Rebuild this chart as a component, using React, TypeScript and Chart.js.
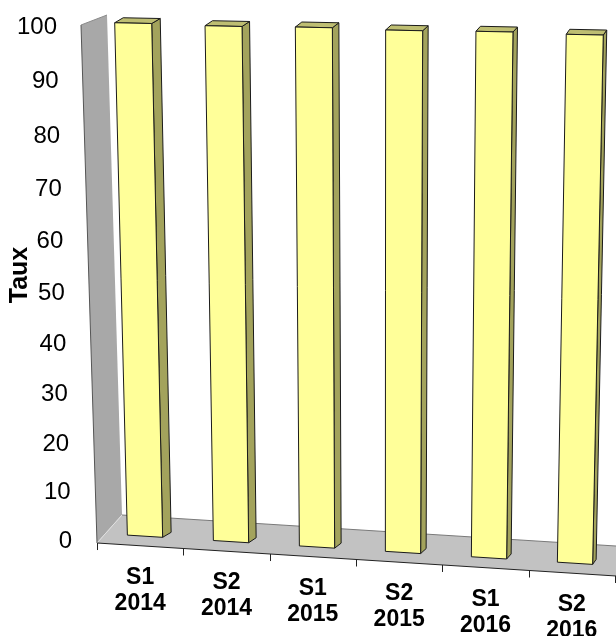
import React, { useEffect, useRef } from 'react';
import { Chart, registerables, LinearScale } from 'chart.js';

Chart.register(...registerables);

// ---- data ----
const PERIODS = ['S1', 'S2', 'S1', 'S2', 'S1', 'S2'];
const YEARS = ['2014', '2014', '2015', '2015', '2016', '2016'];
const RATES = [99.6, 99.4, 99.5, 99.3, 99.4, 99.2];
const Y_TICKS = [0, 10, 20, 30, 40, 50, 60, 70, 80, 90, 100];
const Y_TITLE = 'Taux';

// perspective bend of the vertical axis (vanishing point below the chart)
const BEND = -0.07;

class PerspectiveScale extends LinearScale {
  static id = 'perspective';
  static defaults = LinearScale.defaults;
  getPixelForValue(value: any) {
    if (value === null || value === undefined || isNaN(value)) return NaN;
    const t = (value - this.min) / (this.max - this.min);
    const g = ((1 + BEND) * t) / (1 + BEND * t);
    return this.bottom - g * (this.bottom - this.top);
  }
  getValueForPixel(pixel: number) {
    const g = (this.bottom - pixel) / (this.bottom - this.top);
    const t = g / (1 + BEND - BEND * g);
    return this.min + t * (this.max - this.min);
  }
}
Chart.register(PerspectiveScale);

const FRONT = '#FFFF99';
const SIDE = '#A3A35C';
const TOP = '#BEBE72';
const WALL = '#A8A8A8';
const FLOOR = '#C2C2C2';

function poly(ctx: CanvasRenderingContext2D, pts: number[][], fill: string, stroke?: string, lw = 1) {
  ctx.beginPath();
  ctx.moveTo(pts[0][0], pts[0][1]);
  for (let i = 1; i < pts.length; i++) ctx.lineTo(pts[i][0], pts[i][1]);
  ctx.closePath();
  ctx.fillStyle = fill;
  ctx.fill();
  if (stroke) {
    ctx.strokeStyle = stroke;
    ctx.lineWidth = lw;
    ctx.stroke();
  }
}

const scenePlugin = {
  id: 'scene3d',
  beforeDatasetsDraw(chart: any) {
    const { ctx, chartArea: ca } = chart;
    const W = ca.right - ca.left;
    const H = ca.bottom - ca.top;
    const cw = chart.width;
    const frontY = (x: number) => ca.bottom + 2 + 0.0636 * (x - ca.left);
    const backY = (x: number) => ca.bottom - 26 + 0.0628 * (x - ca.left - 25);

    ctx.save();
    ctx.lineJoin = 'round';
    // side wall
    poly(ctx, [
      [ca.left - 16, ca.top - 2],
      [ca.left + 10, ca.top - 12],
      [ca.left + 25, ca.bottom - 26],
      [ca.left, ca.bottom + 2],
    ], WALL);
    ctx.strokeStyle = '#555';
    ctx.lineWidth = 1;
    ctx.beginPath();
    ctx.moveTo(ca.left - 16, ca.top - 2);
    ctx.lineTo(ca.left, ca.bottom + 2);
    ctx.stroke();
    ctx.strokeStyle = '#8a8a8a';
    ctx.beginPath();
    ctx.moveTo(ca.left - 16, ca.top - 2);
    ctx.lineTo(ca.left + 10, ca.top - 12);
    ctx.stroke();

    // floor
    poly(ctx, [
      [ca.left, frontY(ca.left)],
      [ca.left + 25, backY(ca.left + 25)],
      [cw + 20, backY(cw + 20)],
      [cw + 20, frontY(cw + 20)],
    ], FLOOR);
    ctx.strokeStyle = '#7a7a7a';
    ctx.beginPath();
    ctx.moveTo(ca.left + 25, backY(ca.left + 25));
    ctx.lineTo(cw + 20, backY(cw + 20));
    ctx.stroke();
    ctx.strokeStyle = '#e0e0e0';
    ctx.beginPath();
    ctx.moveTo(ca.left, frontY(ca.left));
    ctx.lineTo(ca.left + 25, backY(ca.left + 25));
    ctx.stroke();
    ctx.strokeStyle = '#222';
    ctx.beginPath();
    ctx.moveTo(ca.left, frontY(ca.left));
    ctx.lineTo(cw + 20, frontY(cw + 20));
    ctx.stroke();

    // x ticks at category boundaries
    const n = PERIODS.length;
    ctx.strokeStyle = '#222';
    for (let k = 0; k <= n; k++) {
      const x = Math.round(ca.left + (k * W) / n) + 0.5;
      ctx.beginPath();
      ctx.moveTo(x, frontY(x));
      ctx.lineTo(x, frontY(x) + 7);
      ctx.stroke();
    }

    // bars, projected from the library's bar geometry
    const BL = [ca.left + 5, ca.bottom - 7.5];
    const BR = [ca.right + 3, ca.bottom + 25];
    const TL = [ca.left - 9, ca.top - 7];
    const TR = [ca.right + 15, ca.top + 4];
    const P = (u: number, v: number) => {
      const bx = BL[0] + (BR[0] - BL[0]) * u;
      const by = BL[1] + (BR[1] - BL[1]) * u;
      const tx = TL[0] + (TR[0] - TL[0]) * u;
      const ty = TL[1] + (TR[1] - TL[1]) * u;
      return [bx + (tx - bx) * v, by + (ty - by) * v];
    };
    const meta = chart.getDatasetMeta(0);
    meta.data.forEach((el: any) => {
      const { x, y, base, width } = el.getProps(['x', 'y', 'base', 'width'], true);
      const uL = (x - width / 2 - ca.left) / W;
      const uR = (x + width / 2 - ca.left) / W;
      const vT = (ca.bottom - y) / H;
      const vB = (ca.bottom - base) / H;
      const fTL = P(uL, vT), fTR = P(uR, vT), fBR = P(uR, vB), fBL = P(uL, vB);
      const uc = (uL + uR) / 2;
      const dx = 9 - 6 * uc;
      const dy = -5;
      const add = (p: number[]) => [p[0] + dx, p[1] + dy];
      poly(ctx, [fTR, add(fTR), add(fBR), fBR], SIDE, '#1a1a1a', 1);
      poly(ctx, [fTL, add(fTL), add(fTR), fTR], TOP, '#1a1a1a', 1);
      poly(ctx, [fTL, fTR, fBR, fBL], FRONT, '#1a1a1a', 1);
    });
    ctx.restore();
    return false;
  },
  afterDraw(chart: any) {
    const { ctx, chartArea: ca, scales } = chart;
    const ys = scales.y;
    const xs = scales.x;
    const frontY = (x: number) => ca.bottom + 2 + 0.0636 * (x - ca.left);
    ctx.save();
    ctx.fillStyle = '#000';
    // y tick labels
    ctx.font = '24px "Liberation Sans", Arial, sans-serif';
    ctx.textAlign = 'right';
    ctx.textBaseline = 'middle';
    Y_TICKS.forEach((t) => {
      const y = ys.getPixelForValue(t);
      const xr = ca.left - 40 + (15 * (y - ca.top)) / (ca.bottom - ca.top);
      ctx.fillText(String(t), xr, y);
    });
    // y title
    ctx.save();
    ctx.translate(20, 275);
    ctx.rotate(-Math.PI / 2);
    ctx.font = 'bold 25px "Liberation Sans", Arial, sans-serif';
    ctx.textAlign = 'center';
    ctx.textBaseline = 'middle';
    ctx.fillText(Y_TITLE, 0, 0);
    ctx.restore();
    // x labels
    ctx.font = 'bold 23px "Liberation Sans", Arial, sans-serif';
    ctx.textAlign = 'center';
    ctx.textBaseline = 'alphabetic';
    PERIODS.forEach((p, i) => {
      const x = xs.getPixelForValue(i);
      const y0 = frontY(x) + 38;
      ctx.fillText(p, x, y0);
      ctx.fillText(YEARS[i], x, y0 + 26);
    });
    ctx.restore();
  },
};

export default function App() {
  const ref = useRef<HTMLCanvasElement>(null);
  useEffect(() => {
    if (!ref.current) return;
    const chart = new Chart(ref.current, {
      type: 'bar',
      data: {
        labels: PERIODS.map((p, i) => p + ' ' + YEARS[i]),
        datasets: [
          {
            data: RATES,
            backgroundColor: FRONT,
            borderColor: '#000',
            borderWidth: 1,
            barPercentage: 0.41,
            categoryPercentage: 1,
          },
        ],
      },
      options: {
        responsive: false,
        animation: false,
        devicePixelRatio: 1,
        layout: { padding: { left: 97, right: 1, top: 27, bottom: 95 } },
        plugins: { legend: { display: false }, tooltip: { enabled: false } },
        scales: {
          x: { type: 'category', display: false, offset: true },
          y: { type: 'perspective', display: false, min: 0, max: 100 },
        },
      },
      plugins: [scenePlugin],
    } as any);
    return () => chart.destroy();
  }, []);
  return (
    <div style={{ position: 'absolute', left: 0, top: 0, width: 616, height: 636, background: '#fff' }}>
      <canvas ref={ref} width={616} height={636} style={{ display: 'block' }} />
    </div>
  );
}
